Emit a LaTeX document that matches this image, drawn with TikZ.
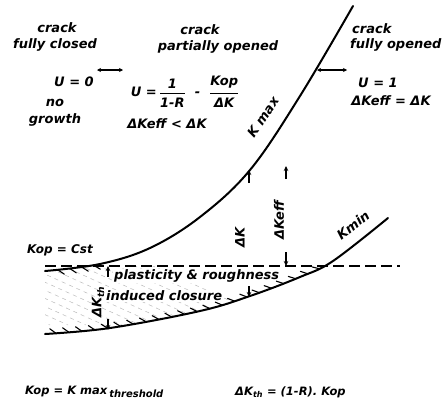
\documentclass[tikz,border=0pt]{standalone}
\usepackage{amsmath}
\usepackage{fontspec}
\setmainfont{DejaVu Sans}
\usetikzlibrary{arrows.meta, decorations.markings}

\begin{document}
\begin{tikzpicture}[
    x=1pt, y=-1pt,
    txt/.style={font=\bfseries\itshape\fontsize{13}{15}\selectfont, align=center, inner sep=0pt},
    foot/.style={font=\bfseries\itshape\fontsize{11.5}{13}\selectfont, inner sep=0pt, anchor=west},
    curve/.style={line width=2pt, line cap=round},
    kop/.style={line width=2pt, dash pattern=on 11pt off 5pt},
    dimtick/.style={-{Stealth[length=5pt, width=4.5pt]}, line width=1.4pt},
    bound/.style={{Stealth[length=4pt, width=4pt]}-{Stealth[length=4pt, width=4pt]}, line width=1.6pt},
    hatch/.style={gray!55, line width=0.5pt, dash pattern=on 4pt off 4pt},
    tickmin/.style={postaction={decorate}, decoration={markings,
        mark=between positions 0.03 and 0.8 step 13pt with {\draw[line width=1.1pt] (0pt,0pt) -- (-6pt,5pt);}}},
    tickmax/.style={postaction={decorate}, decoration={markings,
        mark=between positions 0.03 and 0.14 step 12pt with {\draw[line width=1.1pt] (0pt,0pt) -- (6pt,-5pt);}}}
  ]
    \useasboundingbox (0,0) rectangle (443,407);

    % Hatched closure region
    \begin{scope}
      \clip (45,266) rectangle (400,345);
      \clip plot[smooth, tension=0.6] coordinates {(45,334) (110,328) (200,311) (250,296) (300,277) (333,261) (388,218)}
            -- (388,150) -- (45,150) -- cycle;
      \clip plot[smooth, tension=0.6] coordinates {(45,271) (100,264) (150,248) (200,217) (250,170) (300,96) (353,6)}
            -- (443,0) -- (443,407) -- (45,407) -- cycle;
      \foreach \s in {-90,-72,...,150}
        \draw[hatch] (\s,262) -- ++(140,63);
    \end{scope}

    % Closure text
    \node[txt, fill=white, inner sep=1pt, anchor=west] (plast) at (113,276) {plasticity \& roughness};
    \node[txt, fill=white, inner sep=1pt, anchor=west] (induc) at (105,296) {induced closure};

    % Curves
    \draw[curve, tickmax] plot[smooth, tension=0.6] coordinates {(45,271) (100,264) (150,248) (200,217) (250,170) (300,96) (353,6)};
    \draw[curve, tickmin] plot[smooth, tension=0.6] coordinates {(45,334) (110,328) (200,311) (250,296) (300,277) (333,261) (388,218)};
    \draw[kop] (45,266) -- (400,266);

    \node[txt, rotate=56] (kmax) at (263,117) {K max};
    \node[txt, rotate=38] (kmin) at (353,225) {Kmin};
    \node[txt, anchor=west, font=\bfseries\itshape\fontsize{12}{14}\selectfont] (kopcst) at (27,250) {Kop = Cst};

    % Regions (top)
    \node[txt] (lcrack) at (57,28) {crack};
    \node[txt] (lstate) at (55,45) {fully closed};
    \node[txt] (mcrack) at (200,30) {crack};
    \node[txt] (mstate) at (218,47) {partially opened};
    \node[txt, anchor=west] (rcrack) at (352,29) {crack};
    \node[txt, anchor=west] (rstate) at (350,45) {fully opened};

    \node[txt] (u0) at (74,82) {U = 0};
    \node[txt] (nogr) at (55,113) {no\\[2pt]growth};
    \node[txt] (umid) at (185,92) {U =\,$\genfrac{}{}{1.4pt}{0}{\text{1}}{\text{1-R}}$\ \ -\ \ $\genfrac{}{}{1.4pt}{0}{\text{Kop}}{\text{ΔK}}$};
    \node[txt] (kmid) at (167,124) {ΔKeff < ΔK};
    \node[txt] (u1) at (378,83) {U = 1};
    \node[txt] (kright) at (391,101) {ΔKeff = ΔK};

    % Region boundaries
    \coordinate (clsL) at (97,70);
    \coordinate (clsR) at (123,70);
    \coordinate (opnL) at (317,70);
    \coordinate (opnR) at (347,70);
    \draw[bound] (clsL) -- (clsR);
    \draw[bound] (opnL) -- (opnR);

    % Stress intensity ranges
    \node[txt, rotate=90] (dk) at (240,237) {ΔK};
    \node[txt, rotate=90] (dkeff) at (279,220) {ΔKeff};
    \node[txt, rotate=90] (dkth) at (98,302) {ΔK\textsubscript{th}};

    \coordinate (dkA) at (249,183);  \coordinate (dkB) at (249,170);
    \coordinate (dkC) at (249,286);  \coordinate (dkD) at (249,297);
    \coordinate (efA) at (286,179);  \coordinate (efB) at (286,166);
    \coordinate (efC) at (286,252);  \coordinate (efD) at (286,266);
    \coordinate (thA) at (108,277);  \coordinate (thB) at (108,266);
    \coordinate (thC) at (108,319);  \coordinate (thD) at (108,330);
    \draw[dimtick] (dkA) -- (dkB);
    \draw[dimtick] (dkC) -- (dkD);
    \draw[dimtick] (efA) -- (efB);
    \draw[dimtick] (efC) -- (efD);
    \draw[dimtick] (thA) -- (thB);
    \draw[dimtick] (thC) -- (thD);

    % Threshold relations
    \node[foot] (thr1) at (25,392) {Kop = K max\,\raisebox{-3pt}{\fontsize{10}{12}\selectfont threshold}};
    \node[foot] (thr2) at (235,392) {ΔK\textsubscript{th} = (1-R). Kop};
  \end{tikzpicture}
\end{document}
